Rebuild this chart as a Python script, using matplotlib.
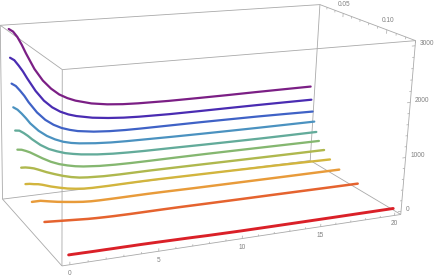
import numpy as np
import matplotlib
matplotlib.use("Agg")
import matplotlib.pyplot as plt

# x positions shared by all curves
x_vals = [0, 0.25, 0.5, 0.75, 1, 1.5, 2, 2.5, 3, 3.5, 4, 5, 6, 7, 8, 10, 12, 14, 16, 18, 20]
# depth of each curve, back to front
depths = [0.023, 0.025, 0.0275, 0.0304, 0.0338, 0.0378, 0.045, 0.053, 0.065, 0.0876, 0.128]

curve_0 = [3030, 2980, 2880, 2740, 2580, 2290, 2070, 1910, 1790, 1710, 1650, 1570, 1525, 1500, 1488, 1478, 1478, 1480, 1485, 1488, 1490]
curve_1 = [2540, 2490, 2390, 2280, 2150, 1910, 1720, 1585, 1490, 1425, 1380, 1320, 1285, 1262, 1250, 1240, 1240, 1242, 1243, 1242, 1240]
curve_2 = [2100, 2050, 1960, 1860, 1740, 1540, 1390, 1285, 1210, 1160, 1122, 1080, 1058, 1048, 1045, 1045, 1045, 1042, 1038, 1030, 1020]
curve_3 = [1700, 1650, 1570, 1480, 1380, 1230, 1120, 1040, 980, 942, 918, 888, 870, 862, 858, 850, 845, 842, 840, 840, 840]
curve_4 = [1310, 1300, 1250, 1190, 1120, 1000, 910, 850, 800, 768, 742, 708, 688, 678, 672, 668, 662, 658, 655, 656, 658]
curve_5 = [1000, 990, 960, 925, 880, 790, 710, 650, 608, 575, 553, 528, 517, 513, 513, 516, 517, 516, 514, 512, 510]
curve_6 = [740, 735, 720, 700, 670, 605, 550, 500, 460, 432, 418, 403, 400, 402, 404, 402, 399, 396, 393, 391, 390]
curve_7 = [520, 515, 500, 490, 470, 420, 380, 345, 322, 306, 300, 300, 304, 307, 308, 303, 298, 293, 288, 280, 272]
curve_8 = [320, 320, 320, 305, 290, 262, 240, 220, 203, 193, 190, 190, 192, 194, 193, 188, 186, 184, 182, 181, 180]
curve_9 = [200, 195, 190, 185, 180, 170, 160, 150, 144, 140, 137, 135, 136, 137, 137, 133, 130, 128, 125, 122, 120]
curve_10 = [82, 82, 81, 81, 80, 79, 79, 78, 78, 77, 77, 74, 70, 66, 60, 54, 52, 51, 50, 50, 50]
curves = [curve_0, curve_1, curve_2, curve_3, curve_4, curve_5, curve_6, curve_7, curve_8, curve_9, curve_10]

colors = ["#7b1f85", "#4a2cb2", "#3f62c6", "#4b92c0", "#63ab9a", "#85b770",
          "#afb84e", "#d2b53e", "#e89b3a", "#e5632f", "#da2028"]
widths = [1.6, 1.6, 1.6, 1.6, 1.65, 1.65, 1.7, 1.7, 1.75, 1.8, 2.1]

x_ticks = [0, 5, 10, 15, 20]
depth_ticks = [0.05, 0.10]
z_ticks = [0, 1000, 2000, 3000]

x_lo, x_hi = -0.43, 20.43
s_lo, s_hi = 0.021, 0.13
z_lo, z_hi = -60, 3090

W, H = 436, 280
GRAY = "#a9a9a9"
TXT = "#808080"

fig = plt.figure(figsize=(W / 100, H / 100), dpi=100)
ax = fig.add_axes([0, 0, 1, 1])
ax.set_xlim(0, W)
ax.set_ylim(H, 0)
ax.axis("off")

# camera: fit a projection to where the box corners sit in the picture
corners = [((0, 0, 0), (2.5, 199)), ((0, 0, 1), (0.5, 25)), ((1, 0, 0), (310, 161)), ((1, 0, 1), (320, 4.5)),
           ((0, 1, 0), (62, 266)), ((0, 1, 1), (62, 70)), ((1, 1, 0), (401, 214)), ((1, 1, 1), (415.5, 40.7))]
rows = []
for c, (u, v) in corners:
    p = np.array([c[0], c[1], c[2], 1.0])
    rows.append(np.r_[p, 0 * p, -u * p])
    rows.append(np.r_[0 * p, p, -v * p])
cam = np.linalg.svd(np.array(rows))[2][-1].reshape(3, 4)


def project(x, s, z):
    x, s, z = np.broadcast_arrays(np.asarray(x, float), np.asarray(s, float), np.asarray(z, float))
    p = np.stack([(x - x_lo) / (x_hi - x_lo), (s - s_lo) / (s_hi - s_lo),
                  (z - z_lo) / (z_hi - z_lo), np.ones_like(x)])
    q = cam @ p.reshape(4, -1)
    return q[0] / q[2], q[1] / q[2]


def seg(xs, ss, zs, lw=0.6):
    ax.plot(*project(xs, ss, zs), color=GRAY, lw=lw, zorder=1, solid_capstyle="butt")


def label(x, s, z, txt, **kw):
    u, v = project(x, s, z)
    ax.text(u[0], v[0], txt, family="Liberation Sans", fontsize=4.7, color=TXT, va="center", **kw)


# box edges
for s in (s_lo, s_hi):
    for z in (z_lo, z_hi):
        seg([x_lo, x_hi], s, z)
for x in (x_lo, x_hi):
    for z in (z_lo, z_hi):
        seg(x, [s_lo, s_hi], z)
for x in (x_lo, x_hi):
    for s in (s_lo, s_hi):
        seg(x, s, [z_lo, z_hi])

# ticks
for t in range(0, 21):
    seg(t, s_hi, [z_lo, z_lo + (50 if t % 5 == 0 else 30)], lw=0.5)
for k in range(3, 14):
    seg(x_hi, k / 100, [z_hi, z_hi - (70 if k % 5 == 0 else 40)], lw=0.5)
for z in range(0, 3001, 200):
    seg([x_hi, x_hi - (0.22 if z % 1000 == 0 else 0.13)], s_hi, z, lw=0.5)

for s, z, c, lw in zip(depths, curves, colors, widths):
    ax.plot(*project(x_vals, s, z), color=c, lw=lw, zorder=3, solid_capstyle="round", solid_joinstyle="round")

for t in x_ticks:
    label(t, s_hi, z_lo - 155, str(t), ha="center")
for s in depth_ticks:
    label(x_hi, s, z_hi + 170, "%.2f" % s, ha="center")
for z in z_ticks:
    label(x_hi + 0.32, s_hi, z + 30, str(z), ha="left")

fig.savefig("out.png", dpi=100)
